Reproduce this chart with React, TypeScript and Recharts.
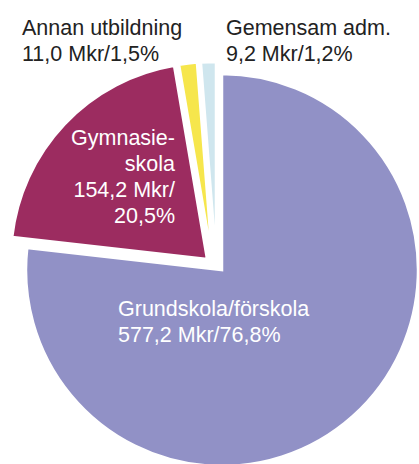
import { PieChart, Pie, Cell, Sector } from "recharts";

const NAMES = ["Grundskola/förskola", "Gymnasieskola", "Annan utbildning", "Gemensam adm."];
const VALUES = [577.2, 154.2, 11.0, 9.2];
const PERCENTS = [76.8, 20.5, 1.5, 1.2];
const NAME_LINES = [["Grundskola/förskola"], ["Gymnasie-", "skola"], ["Annan utbildning"], ["Gemensam adm."]];

const COLORS = ["#9191c6", "#9c2c60", "#f6e64c", "#cfe6ee"];
// pulled-out offsets (dx, dy) per slice
const OFFSETS = [
  [0, 0],
  [-15, -11],
  [-10, -12],
  [-6, -12],
];
const FONT = "'Liberation Sans', Arial, sans-serif";

// label placement per slice: x, first baseline, anchor, colour, line layout
const LABELS = [
  { x: 118, y: 316, anchor: "start", fill: "#ffffff", split: false },
  { x: 175, y: 145, anchor: "end", fill: "#ffffff", split: true },
  { x: 22, y: 35, anchor: "start", fill: "#222222", split: false },
  { x: 226, y: 35, anchor: "start", fill: "#222222", split: false },
];

const fmt = (n: number) => n.toFixed(1).replace(".", ",");

const data = NAMES.map((name, i) => ({ name, value: VALUES[i], pct: PERCENTS[i], idx: i }));

function ExplodedSector(props: any) {
  const { cx, cy, payload } = props;
  const i = payload?.idx ?? props.idx ?? 0;
  const [dx, dy] = OFFSETS[i] || [0, 0];
  return <Sector {...props} cx={cx + dx} cy={cy + dy} />;
}

function renderLabel(props: any) {
  const i = props.payload?.idx ?? props.index;
  const l = LABELS[i];
  const lines = l.split
    ? [...NAME_LINES[i], `${fmt(VALUES[i])} Mkr/`, `${fmt(PERCENTS[i])}%`]
    : [...NAME_LINES[i], `${fmt(VALUES[i])} Mkr/${fmt(PERCENTS[i])}%`];
  return (
    <text x={l.x} y={l.y} textAnchor={l.anchor} fill={l.fill} fontSize={21.5} fontFamily={FONT}>
      {lines.map((t, k) => (
        <tspan key={k} x={l.x} y={l.y + k * 26}>{t}</tspan>
      ))}
    </text>
  );
}

export default function App() {
  return (
    <div style={{ position: "absolute", left: 0, top: 0, width: 419, height: 464, background: "#fff" }}>
      <PieChart width={419} height={464} margin={{ top: 0, right: 0, bottom: 0, left: 0 }}>
        <Pie
          data={data}
          dataKey="value"
          nameKey="name"
          cx={222}
          cy={270}
          outerRadius={196}
          startAngle={90}
          endAngle={-270}
          stroke="#ffffff"
          strokeWidth={2.5}
          shape={ExplodedSector}
          label={renderLabel}
          labelLine={false}
          isAnimationActive={false}
        >
          {data.map((_, i) => (
            <Cell key={i} fill={COLORS[i]} />
          ))}
        </Pie>
      </PieChart>
    </div>
  );
}
